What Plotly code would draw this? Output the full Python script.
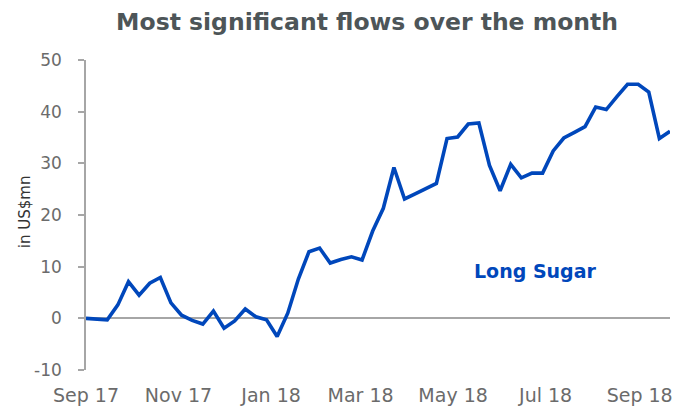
import pandas as pd
import plotly.graph_objects as go

# Weekly observations starting 1 Sep 2017
start_date = "2017-09-01"
n_weeks = 56
dates = pd.date_range(start=start_date, periods=n_weeks, freq="7D")

long_sugar = [
    0.0, -0.1, -0.3, 2.6, 7.1, 4.5, 6.8, 7.9, 3.0, 0.6,
    -0.4, -1.1, 1.4, -1.9, -0.5, 1.8, 0.3, -0.3, -3.5, 1.0,
    7.6, 12.9, 13.6, 10.7, 11.4, 11.9, 11.3, 16.9, 21.3, 29.2,
    23.1, 24.1, 25.1, 26.1, 34.8, 35.1, 37.6, 37.8, 29.6, 24.7,
    29.8, 27.2, 28.1, 28.1, 32.4, 34.9, 36.0, 37.1, 40.9, 40.4,
    42.9, 45.3, 45.3, 43.8, 34.8, 36.2,
]

tick_dates = ["2017-09-01", "2017-11-01", "2018-01-01", "2018-03-01",
              "2018-05-01", "2018-07-01", "2018-09-01"]
tick_labels = ["Sep 17", "Nov 17", "Jan 18", "Mar 18", "May 18", "Jul 18", "Sep 18"]
y_ticks = [-10, 0, 10, 20, 30, 40, 50]
y_tick_labels = ["-10", "0", "10", "20", "30", "40", "50"]

series_name = "Long Sugar"
line_color = "#0047BB"

fig = go.Figure()
fig.add_trace(go.Scatter(
    x=dates, y=long_sugar, mode="lines", name=series_name,
    line=dict(color=line_color, width=3.6), showlegend=False,
))

fig.add_annotation(
    x="2018-06-24", y=9.1, xref="x", yref="y",
    text="<b>" + series_name + "</b>", showarrow=False,
    font=dict(family="DejaVu Sans", size=19, color=line_color),
)

fig.add_annotation(
    x=-0.104, y=0.51, xref="paper", yref="paper",
    text="in US$mn", textangle=-90, showarrow=False,
    xanchor="center", yanchor="middle",
    font=dict(family="DejaVu Sans", size=15, color="#333333"),
)

fig.update_layout(
    width=684, height=401,
    margin=dict(l=78, r=22, t=52, b=39),
    paper_bgcolor="white", plot_bgcolor="white",
    title=dict(
        text="<b>Most significant flows over the month</b>",
        xref="container", x=0.525, xanchor="center",
        yref="container", y=0.965, yanchor="middle",
        font=dict(family="DejaVu Sans", size=23.5, color="#4d5558"),
    ),
)

fig.update_xaxes(
    range=[dates[0], dates[-1]],
    tickvals=tick_dates, ticktext=tick_labels,
    showgrid=False, showline=False, ticks="",
    zeroline=False, automargin=False,
    tickfont=dict(family="DejaVu Sans", size=19, color="#6b6b6b"),
    ticklabelstandoff=12,
)

fig.update_yaxes(
    range=[-10, 50], tickvals=y_ticks, ticktext=y_tick_labels,
    showgrid=False, showline=True, linecolor="#a6a6a6", linewidth=1.5,
    ticks="outside", ticklen=6, tickcolor="#a6a6a6", tickwidth=1.5,
    zeroline=True, zerolinecolor="#a6a6a6", zerolinewidth=1.5,
    automargin=False,
    tickfont=dict(family="DejaVu Sans", size=17, color="#6b6b6b"),
    ticklabelstandoff=13,
)

fig.write_html("out.html")
